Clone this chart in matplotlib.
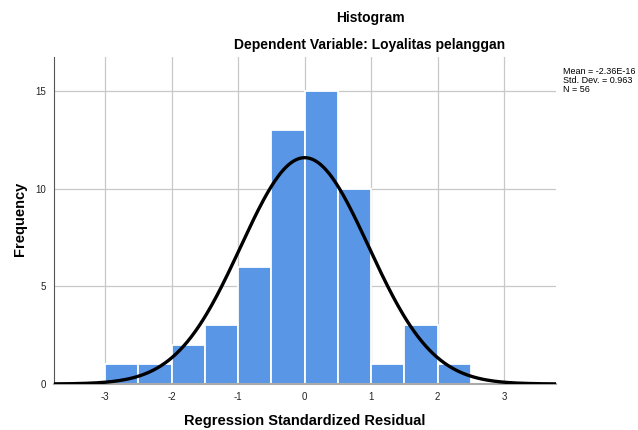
import numpy as np
from matplotlib import pyplot as plt

plt.rcParams['font.family'] = ['Liberation Sans', 'DejaVu Sans']
plt.rcParams['axes.unicode_minus'] = False

# histogram bins (width 0.5) and counts
bin_edges = [-3.0, -2.5, -2.0, -1.5, -1.0, -0.5, 0.0, 0.5, 1.0, 1.5, 2.0, 2.5]
counts = [1, 1, 2, 3, 6, 13, 15, 10, 1, 3, 1]

mean = -2.36e-16
std = 0.963
n = 56

fig = plt.figure(figsize=(6.38, 4.30), dpi=100)
ax = fig.add_axes([0.0846, 0.107, 0.787, 0.760])

lefts = bin_edges[:-1]
widths = np.diff(bin_edges)
ax.bar(lefts, counts, width=widths, align='edge', color='#5a96e6',
       edgecolor='white', linewidth=1.3, zorder=2)

# normal curve scaled to counts
xs = np.linspace(-3.8, 3.8, 400)
ys = n * 0.5 / (std * np.sqrt(2 * np.pi)) * np.exp(-0.5 * ((xs - mean) / std) ** 2)
ax.plot(xs, ys, color='black', linewidth=2.4, zorder=3)

ax.set_xlim(-3.77, 3.78)
ax.set_ylim(0, 16.75)
ax.set_xticks([-3, -2, -1, 0, 1, 2, 3])
ax.set_yticks([0, 5, 10, 15])
ax.grid(True, color='#c8c8c8', linewidth=0.9, zorder=0)
ax.set_axisbelow(True)
ax.tick_params(length=0, labelsize=7, colors='#222222', pad=6)

for side in ['top', 'right']:
    ax.spines[side].set_visible(False)
ax.spines['left'].set_color('#555555')
ax.spines['bottom'].set_color('#aaaaaa')
ax.spines['bottom'].set_linewidth(1.5)

fig.text(0.478, 0.021, 'Regression Standardized Residual', ha='center', va='center',
         fontsize=10.5, fontweight='bold')
fig.text(0.031, 0.49, 'Frequency', ha='center', va='center', rotation=90,
         fontsize=10.5, fontweight='bold')

fig.text(0.58, 0.958, 'Histogram', ha='center', va='center', fontsize=10, fontweight='bold')
fig.text(0.58, 0.895, 'Dependent Variable: Loyalitas pelanggan', ha='center', va='center',
         fontsize=10, fontweight='bold')

fig.text(0.882, 0.813, 'Mean = -2.36E-16\nStd. Dev. = 0.963\nN = 56', ha='left', va='center',
         fontsize=6.5, linespacing=1.0)

plt.savefig('out.png', dpi=100)
